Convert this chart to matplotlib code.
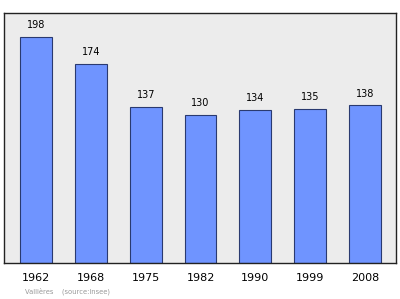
import matplotlib
matplotlib.use("Agg")
import matplotlib.pyplot as plt

years = ["1962", "1968", "1975", "1982", "1990", "1999", "2008"]
population = [198, 174, 137, 130, 134, 135, 138]

fig = plt.figure(figsize=(4.0, 2.99), dpi=100)
fig.patch.set_facecolor("white")
ax = fig.add_axes([0.01, 0.1204, 0.98, 0.8361])
ax.set_facecolor("#ececec")

x = list(range(len(years)))
bars = ax.bar(x, population, width=0.58, color="#6f94ff",
              edgecolor="#2a3a70", linewidth=0.8, zorder=2)

for xi, v in zip(x, population):
    ax.annotate(str(v), (xi, v), xytext=(0, 5), textcoords="offset points",
                ha="center", va="bottom", fontsize=7, color="black")

ax.set_xlim(-0.59, 6.57)
ax.set_ylim(0, 219)
ax.set_yticks([])
ax.set_xticks(x)
ax.set_xticklabels(years, fontsize=8)
ax.tick_params(axis="x", length=0, pad=7)
for s in ax.spines.values():
    s.set_color("#222222")
    s.set_linewidth(1.0)

fig.text(0.062, 0.015, "Vallières    (source:Insee)", fontsize=4.9,
         color="#999999", ha="left", va="bottom")

fig.savefig("out.png", dpi=100)
